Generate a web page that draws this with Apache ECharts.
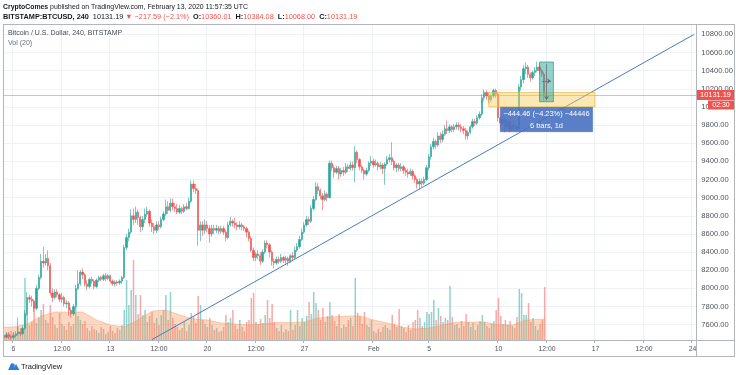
<!DOCTYPE html>
<html><head><meta charset="utf-8">
<script src="https://cdn.jsdelivr.net/npm/echarts@6/dist/echarts.min.js"></script>
<style>html,body{margin:0;padding:0;background:#fff}#c{width:736px;height:375px}</style>
</head><body><div id="c"></div>
<script>
// ---------- axis definition ----------
const firstBarUTC = '2020-01-05T08:00:00Z';
const barHours = 4;
const slotCount = 300;

// ---------- OHLC, 4h bars, Jan 5 08:00 .. Feb 13 08:00 (one line per day) ----------
const open = [
7480,7460,7490,7470,
7460,7480,7500,7520,7500,7560,
7720,7900,7880,7860,7780,8000,
8120,8300,8280,8330,8250,7950,
7900,7960,7930,7880,7900,7830,
7840,7760,7720,7800,8000,8050,
8180,8150,8050,8020,8100,8080,
8020,8090,8120,8100,8140,8110,
8140,8080,8050,8070,8060,8080,
8120,8450,8560,8620,8800,8760,
8840,8780,8680,8760,8820,8850,
8720,8680,8640,8700,8680,8760,
8820,8900,8860,8940,8900,8880,
8840,8880,8850,8900,8880,8960,
9150,9100,9080,8640,8700,8640,
8700,8660,8600,8660,8640,8660,
8630,8660,8620,8560,8700,8740,
8720,8700,8680,8700,8680,8660,
8620,8550,8420,8340,8380,8360,
8300,8400,8500,8480,8400,8300,
8280,8320,8300,8340,8310,8330,
8300,8360,8340,8420,8460,8540,
8620,8700,8760,8740,8880,8980,
9120,9080,9020,8980,9040,9000,
9380,9330,9280,9320,9260,9300,
9280,9340,9320,9360,9330,9500,
9420,9340,9300,9260,9300,9380,
9400,9360,9380,9340,9360,9320,
9370,9420,9440,9400,9330,9360,
9320,9340,9300,9280,9260,9290,
9240,9200,9150,9180,9160,9200,
9330,9450,9560,9620,9580,9680,
9640,9700,9760,9740,9780,9750,
9780,9800,9780,9760,9740,9680,
9720,9780,9840,9820,9880,9920,
10100,10160,10120,10080,10120,10180,
10140,9880,9820,9860,9780,9840,
9760,9800,9780,9760,10220,10300,
10420,10440,10360,10320,10380,10400,
10440,10400,10360.01
];
const close = [
7460,7490,7470,7460,
7480,7500,7520,7500,7560,7720,
7900,7880,7860,7780,8000,8120,
8300,8280,8330,8250,7950,7900,
7960,7930,7880,7900,7830,7840,
7760,7720,7800,8000,8050,8180,
8150,8050,8020,8100,8080,8020,
8090,8120,8100,8140,8110,8140,
8080,8050,8070,8060,8080,8120,
8450,8560,8620,8800,8760,8840,
8780,8680,8760,8820,8850,8720,
8680,8640,8700,8680,8760,8820,
8900,8860,8940,8900,8880,8840,
8880,8850,8900,8880,8960,9150,
9100,9080,8640,8700,8640,8700,
8660,8600,8660,8640,8660,8630,
8660,8620,8560,8700,8740,8720,
8700,8680,8700,8680,8660,8620,
8550,8420,8340,8380,8360,8300,
8400,8500,8480,8400,8300,8280,
8320,8300,8340,8310,8330,8300,
8360,8340,8420,8460,8540,8620,
8700,8760,8740,8880,8980,9120,
9080,9020,8980,9040,9000,9380,
9330,9280,9320,9260,9300,9280,
9340,9320,9360,9330,9500,9420,
9340,9300,9260,9300,9380,9400,
9360,9380,9340,9360,9320,9370,
9420,9440,9400,9330,9360,9320,
9340,9300,9280,9260,9290,9240,
9200,9150,9180,9160,9200,9330,
9450,9560,9620,9580,9680,9640,
9700,9760,9740,9780,9750,9780,
9800,9780,9760,9740,9680,9720,
9780,9840,9820,9880,9920,10100,
10160,10120,10080,10120,10180,10140,
9880,9820,9860,9780,9840,9760,
9800,9780,9760,10220,10300,10420,
10440,10360,10320,10380,10400,10440,
10400,10360.01,10131.19
];
const low = [
7440,7450,7445,7440,
7440,7465,7480,7475,7490,7540,
7700,7840,7800,7740,7760,7980,
8100,8230,8250,8200,7920,7850,
7880,7900,7850,7840,7800,7780,
7700,7680,7700,7780,7980,8030,
8100,8020,7980,8000,8050,7990,
8000,8070,8080,8080,8080,8090,
8060,8030,8020,8030,8040,8050,
8100,8420,8520,8600,8700,8720,
8700,8620,8640,8720,8790,8680,
8620,8600,8610,8640,8660,8740,
8800,8820,8840,8860,8840,8820,
8820,8820,8830,8860,8870,8940,
9060,9040,8470,8520,8580,8600,
8620,8500,8570,8600,8610,8600,
8600,8590,8520,8540,8680,8680,
8660,8640,8650,8640,8630,8560,
8520,8400,8300,8300,8320,8260,
8280,8380,8440,8340,8250,8220,
8260,8270,8280,8280,8260,8250,
8280,8310,8320,8400,8440,8520,
8600,8680,8700,8720,8860,8960,
9040,8980,8860,8960,8960,8990,
9290,9220,9260,9200,9230,9240,
9260,9280,9300,9300,9170,9380,
9300,9270,9200,9240,9280,9350,
9330,9340,9300,9310,9260,9140,
9350,9390,9360,9300,9280,9290,
9290,9260,9240,9220,9240,9200,
9160,9100,9090,9120,9140,9180,
9300,9420,9530,9540,9560,9600,
9610,9680,9700,9710,9720,9720,
9750,9740,9720,9700,9640,9640,
9700,9760,9790,9800,9860,9900,
10060,10080,10040,10050,10100,10100,
9840,9760,9790,9720,9750,9720,
9730,9740,9720,9740,10180,10260,
10360,10320,10280,10300,10340,10380,
10360,10330,10068.00
];
const high = [
7500,7510,7520,7490,
7520,7530,7680,7560,7590,7760,
7960,7930,7920,7880,8040,8150,
8380,8455,8380,8420,8280,8000,
7990,7990,7950,7950,7920,7870,
7860,7790,7830,8040,8200,8200,
8220,8170,8090,8120,8130,8100,
8110,8140,8140,8160,8170,8160,
8150,8100,8090,8090,8100,8140,
8480,8600,8660,8870,8880,8900,
8870,8800,8800,8880,8900,8870,
8760,8720,8740,8740,8790,8850,
8980,8960,8990,8990,8940,8930,
8920,8900,8930,8940,9000,9190,
9190,9150,9100,8740,8740,8760,
8740,8700,8700,8700,8700,8690,
8690,8690,8650,8730,8790,8760,
8780,8730,8740,8720,8700,8680,
8640,8580,8450,8400,8420,8400,
8430,8530,8530,8500,8420,8330,
8350,8350,8380,8360,8360,8350,
8380,8400,8460,8500,8580,8660,
8730,8800,8790,8920,9020,9170,
9160,9100,9050,9080,9060,9410,
9410,9360,9350,9350,9330,9340,
9380,9370,9400,9400,9570,9520,
9440,9360,9320,9330,9400,9460,
9430,9420,9400,9390,9380,9390,
9460,9480,9610,9420,9380,9380,
9380,9360,9330,9320,9320,9310,
9260,9220,9210,9210,9230,9360,
9480,9590,9660,9640,9720,9720,
9740,9800,9850,9810,9800,9810,
9830,9830,9810,9790,9770,9740,
9800,9870,9870,9910,9950,10140,
10190,10180,10160,10140,10200,10200,
10160,9900,9900,9880,9870,9870,
9830,9830,9800,10250,10340,10460,
10490,10460,10380,10400,10440,10500,
10480,10420,10384.08
];
// volume (BTC), same bars
const volume = [
500,800,600,900,
700,600,1300,800,900,6200,
2700,1500,1800,3800,1700,2200,
3000,3600,2000,1700,3500,2300,
1500,1200,2700,1600,1400,1000,
1800,1400,1600,3300,2400,2000,
1600,1900,1200,900,1400,1100,
1000,700,1300,1100,600,800,
1400,900,700,1200,1000,1500,
3000,6000,3500,5000,8000,4500,
2600,4500,2500,3000,1800,2400,
2800,1700,2200,1500,2500,3000,
4500,2000,4800,2200,1600,1300,
1000,1200,1800,900,1500,2700,
2400,1700,4400,3500,2000,1600,
1300,2200,1500,1000,1200,800,
900,1300,2500,1800,2200,3000,
1500,1100,2000,1300,900,1800,
2000,4200,4700,1800,1600,2100,
1700,2500,4000,2200,3600,1800,
1200,900,1500,800,1100,900,
3000,1000,1500,3000,1400,2200,
1800,2400,3800,2600,4800,3700,
3000,2000,3200,1800,2400,3800,
2500,1900,1400,2600,1200,1500,
1300,2000,2200,1400,6200,2700,
2400,1600,2800,1500,1300,2000,
900,700,1100,800,1300,1500,
1200,1000,2500,1600,1300,3100,
1400,1200,800,1500,1000,1800,
2000,3000,2200,1400,1800,2800,
2600,2800,4000,2000,3200,2400,
1800,2200,2000,5400,2300,1500,
1600,1200,1900,1400,2600,1800,
1300,1700,1000,1500,1900,2500,
1800,1400,1200,1600,1900,3000,
4200,2400,1600,2000,1500,1900,
1400,1200,2300,5100,4700,2500,
2500,3700,1800,2200,1400,1000,
1600,2000,5300
];
// Vol MA(20), read once per day from the picture
const volMA = [
['2020-01-05 08:00',1300],['2020-01-06 00:00',1300],['2020-01-07 00:00',1600],['2020-01-08 00:00',2400],
['2020-01-09 00:00',2800],['2020-01-10 00:00',2800],['2020-01-11 00:00',2800],['2020-01-12 00:00',2000],
['2020-01-13 00:00',1500],['2020-01-14 00:00',1300],['2020-01-15 00:00',2000],['2020-01-16 00:00',2900],
['2020-01-17 00:00',3000],['2020-01-18 00:00',2500],['2020-01-19 00:00',2100],['2020-01-20 00:00',2000],
['2020-01-21 00:00',1700],['2020-01-22 00:00',1600],['2020-01-23 00:00',1500],['2020-01-24 00:00',1600],
['2020-01-25 00:00',1750],['2020-01-26 00:00',1750],['2020-01-27 00:00',1800],['2020-01-28 00:00',2200],
['2020-01-29 00:00',2300],['2020-01-30 00:00',2400],['2020-01-31 00:00',2400],['2020-02-01 00:00',2000],
['2020-02-02 00:00',1700],['2020-02-03 00:00',1300],['2020-02-04 00:00',1100],['2020-02-05 00:00',1200],
['2020-02-06 00:00',1500],['2020-02-07 00:00',1800],['2020-02-08 00:00',1800],['2020-02-09 00:00',1800],
['2020-02-10 00:00',1500],['2020-02-11 00:00',1500],['2020-02-12 00:00',2000],['2020-02-13 08:00',2100]
];
const xTickLabels = [
['2020-01-06 00:00','6'],['2020-01-09 12:00','12:00'],['2020-01-13 00:00','13'],['2020-01-16 12:00','12:00'],
['2020-01-20 00:00','20'],['2020-01-23 12:00','12:00'],['2020-01-27 00:00','27'],['2020-02-01 00:00','Feb'],
['2020-02-05 00:00','5'],['2020-02-10 00:00','10'],['2020-02-13 12:00','12:00'],['2020-02-17 00:00','17'],
['2020-02-20 12:00','12:00'],['2020-02-24 00:00','24']
];
const priceMin = 7400, priceMax = 11000, priceStep = 200;
const trendLine = [['2020-01-16 00:00',7435],['2020-02-24 04:00',10800]];
const lastPrice = 10131.19;
const countdown = '02:30';
const yellowZone = [['2020-02-09 08:00',10160],['2020-02-17 00:00',10000]];
const tealZone = [['2020-02-13 00:00',10495],['2020-02-14 00:00',10057]];
const measureBox = [['2020-02-10 04:00',9995],['2020-02-16 20:00',9727]];
const measureText = ['\u2212444.46 (\u22124.23%) \u221244446','6 bars, 1d'];
const arrowV = [['2020-02-13 12:00',10470],['2020-02-13 12:00',10075]];
const arrowH = [['2020-02-13 04:00',10285],['2020-02-13 20:00',10285]];

// ---------- build ----------
function fmt(t){const d=new Date(t);const p=n=>String(n).padStart(2,'0');
  return d.getUTCFullYear()+'-'+p(d.getUTCMonth()+1)+'-'+p(d.getUTCDate())+' '+p(d.getUTCHours())+':'+p(d.getUTCMinutes());}
const categories=[];const t0=Date.parse(firstBarUTC);
for(let k=0;k<slotCount;k++)categories.push(fmt(t0+k*barHours*3600e3));
const tickMap=new Map(xTickLabels);
const showTick=(i,v)=>tickMap.has(v);

const UP='#26a69a', DN='#ef5350';
const candleData=open.map((o,k)=>[o,close[k],low[k],high[k]]);
const volData=volume.map((v,k)=>({value:v,itemStyle:{color:close[k]>=open[k]?'rgba(38,166,154,0.5)':'rgba(239,83,80,0.5)'}}));
const nLines=(priceMax-priceMin)/priceStep+1;
const splitColors=[];for(let k=0;k<nLines;k++)splitColors.push((k===0||k===nLines-1)?'rgba(0,0,0,0)':'#eef1f6');

const FONT='"Liberation Sans", Arial, sans-serif';
const ARROW={color:'#6d6f75',width:0.8,type:'solid',opacity:1};
const chart=echarts.init(document.getElementById('c'),null,{renderer:'canvas'});
const option={
  animation:false,
  textStyle:{fontFamily:FONT},
  grid:[
    {left:3,right:40,top:16.15,bottom:32.15},
    {left:3,right:40,top:24,bottom:35}
  ],
  xAxis:[
    {type:'category',gridIndex:0,data:categories,boundaryGap:true,axisLine:{show:false},axisTick:{show:false},axisLabel:{show:false},splitLine:{show:false}},
    {type:'category',gridIndex:1,data:categories,boundaryGap:true,
     axisLine:{show:false},
     axisTick:{show:true,length:3,interval:showTick,lineStyle:{color:'#b2b5be'}},
     axisLabel:{interval:showTick,formatter:v=>tickMap.get(v)||'',fontSize:6.8,color:'#50535e',margin:6,fontFamily:FONT},
     splitLine:{show:true,interval:showTick,lineStyle:{color:'#eef1f6',width:1}}}
  ],
  yAxis:[
    {type:'value',gridIndex:0,position:'right',min:priceMin,max:priceMax,interval:priceStep,
     axisLine:{show:false},axisTick:{show:false},
     axisLabel:{formatter:v=>(v===priceMin||v===priceMax)?'':v.toFixed(2),fontSize:7.6,color:'#50535e',margin:6,fontFamily:FONT},
     splitLine:{show:true,lineStyle:{color:splitColors,width:1}}},
    {type:'value',gridIndex:1,min:0,max:31600,show:false,splitLine:{show:false}}
  ],
  series:[
    {type:'bar',xAxisIndex:1,yAxisIndex:1,data:volData,barWidth:1.5,z:1},
    {type:'line',xAxisIndex:1,yAxisIndex:1,data:volMA,symbol:'none',z:2,
     lineStyle:{width:0.6,color:'rgba(245,140,80,0.6)'},areaStyle:{color:'rgba(247,145,85,0.52)'}},
    {type:'candlestick',xAxisIndex:0,yAxisIndex:0,data:candleData,barWidth:1.8,z:3,
     itemStyle:{color:UP,color0:DN,borderColor:UP,borderColor0:DN,borderWidth:0.6},
     markArea:{silent:true,z:10,data:[
       [{coord:yellowZone[0],itemStyle:{color:'rgba(247,205,90,0.45)',borderColor:'rgba(235,185,60,0.7)',borderWidth:1}},{coord:yellowZone[1]}],
       [{coord:tealZone[0],itemStyle:{color:'rgba(38,166,154,0.5)',borderColor:'rgba(20,140,128,0.6)',borderWidth:1}},{coord:tealZone[1]}],
       [{coord:measureBox[0],itemStyle:{color:'rgba(72,113,192,0.9)',borderColor:'rgba(60,100,180,0.9)',borderWidth:0.5},
         label:{show:true,position:'inside',color:'#fff',fontSize:7.4,lineHeight:12,fontFamily:FONT,formatter:measureText.join('\n')}},{coord:measureBox[1]}]
     ]},
     markLine:{silent:true,z:11,symbol:['none','none'],label:{show:false},lineStyle:ARROW,
       data:[
       [{coord:arrowV[0],symbol:'none'},{coord:arrowV[1],symbol:'arrow',symbolSize:4}],
       [{coord:arrowH[0],symbol:'none'},{coord:arrowH[1],symbol:'arrow',symbolSize:4}]
     ]}},
    {type:'line',xAxisIndex:0,yAxisIndex:0,data:trendLine,symbol:'none',z:4,color:'#4a7bbd',lineStyle:{color:'#4a7bbd',width:1}}
  ]
};
chart.setOption(option);

// last-price line and its axis tags, placed through the price scale
const py=chart.convertToPixel({yAxisIndex:0},lastPrice);
const lineY=Math.round(py)+0.5;
const G='#b2b5be';
const ln=(x1,y1,x2,y2)=>({type:'line',shape:{x1,y1,x2,y2},style:{stroke:G,lineWidth:1},z:50,silent:true});
chart.setOption({graphic:[
  ln(3,24.5,735,24.5),ln(3.5,24,3.5,357),ln(3,340.5,735,340.5),ln(696.5,24,696.5,357),ln(3,356.5,735,356.5),ln(734.5,24,734.5,357),
  {type:'line',shape:{x1:4,y1:lineY,x2:696,y2:lineY},style:{stroke:'rgba(239,83,80,0.45)',lineWidth:1},z:5,silent:true},
  {type:'text',x:3,y:7,z:60,style:{text:'{b|CryptoComes} published on TradingView.com, February 13, 2020 11:57:35 UTC',
    font:'6.9px '+FONT,fill:'#131722',verticalAlign:'middle',rich:{b:{fontWeight:'bold',fontSize:6.9,fill:'#131722'}}}},
  {type:'text',x:3,y:17,z:60,style:{text:'{b|BITSTAMP:BTCUSD, 240}  10131.19 {r|\u25BC \u2212217.59 (\u22122.1%)}  {b|O:}{r|10360.01}  {b|H:}{r|10384.08}  {b|L:}{r|10068.00}  {b|C:}{r|10131.19}',
    font:'7.3px '+FONT,fill:'#131722',verticalAlign:'middle',rich:{b:{fontWeight:'bold',fontSize:7.3,fill:'#131722'},r:{fontSize:7.3,fill:'#ef5350'}}}},
  {type:'text',x:8,y:33,z:60,style:{text:'Bitcoin / U.S. Dollar, 240, BITSTAMP',font:'7px '+FONT,fill:'#4a4d57',verticalAlign:'middle'}},
  {type:'text',x:8,y:43,z:60,style:{text:'Vol (20)',font:'7px '+FONT,fill:'#6a6d78',verticalAlign:'middle'}},
  {type:'rect',shape:{x:697,y:py-5,width:37,height:10},style:{fill:'#ef5350'},z:70},
  {type:'text',x:715.5,y:py,z:71,style:{text:lastPrice.toFixed(2),font:'7.4px '+FONT,fill:'#fff',align:'center',verticalAlign:'middle'}},
  {type:'rect',shape:{x:708,y:py+5.5,width:26,height:9},style:{fill:'#ef5350'},z:70},
  {type:'text',x:721,y:py+10,z:71,style:{text:countdown,font:'7px '+FONT,fill:'#fff',align:'center',verticalAlign:'middle'}},
  {type:'polygon',shape:{points:[[8,370],[11.5,363.5],[14,367.5],[16,364],[19.5,370]]},style:{fill:'#2a7de1'},z:60},
  {type:'circle',shape:{cx:12.5,cy:365.5,r:2.2},style:{fill:'#2a7de1'},z:60},
  {type:'text',x:21,y:367,z:60,style:{text:'TradingView',font:'7.5px '+FONT,fill:'#131722',verticalAlign:'middle'}}
]});
</script></body></html>
